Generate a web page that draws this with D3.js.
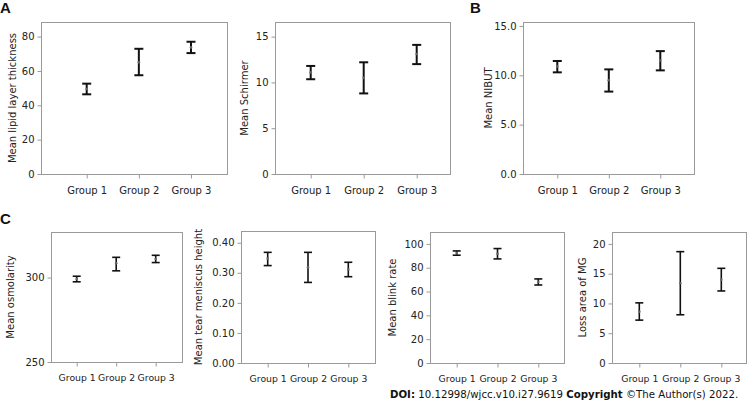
<!DOCTYPE html>
<html>
<head>
<meta charset="utf-8">
<script src="https://cdnjs.cloudflare.com/ajax/libs/d3/7.8.5/d3.min.js"></script>
<style>
  body { margin: 0; background: #fff; }
  svg { display: block; font-family: "DejaVu Sans", Verdana, sans-serif; }
</style>
</head>
<body>
<div id="chart"></div>
<script>
// group names on every x axis
var groups = ["Group 1", "Group 2", "Group 3"];

// values: mean, lower and upper end of each error bar
var lipidMean = [49.5, 65.0, 73.7];
var lipidLow = [46.4, 57.5, 70.4];
var lipidHigh = [52.6, 72.9, 77.0];

var schirmerMean = [11.1, 10.5, 13.1];
var schirmerLow = [10.35, 8.8, 12.0];
var schirmerHigh = [11.8, 12.2, 14.1];

var nibutMean = [10.9, 9.5, 11.5];
var nibutLow = [10.3, 8.35, 10.5];
var nibutHigh = [11.45, 10.6, 12.45];

var osmoMean = [299.2, 308.5, 311.0];
var osmoLow = [297.5, 304.0, 308.9];
var osmoHigh = [300.8, 312.0, 313.2];

var meniscusMean = [0.347, 0.318, 0.311];
var meniscusLow = [0.324, 0.268, 0.287];
var meniscusHigh = [0.368, 0.368, 0.335];

var blinkMean = [92.3, 91.7, 68.0];
var blinkLow = [90.5, 87.4, 65.5];
var blinkHigh = [94.1, 96.1, 70.6];

var mgMean = [8.6, 13.4, 14.0];
var mgLow = [7.2, 8.1, 12.1];
var mgHigh = [10.1, 18.7, 15.9];

// tick values for each y axis
var lipidTicks = [0, 20, 40, 60, 80];
var schirmerTicks = [0, 5, 10, 15];
var nibutTicks = [0, 5, 10, 15];
var osmoTicks = [250, 300];
var meniscusTicks = [0, 0.1, 0.2, 0.3, 0.4];
var blinkTicks = [0, 20, 40, 60, 80, 100];
var mgTicks = [0, 5, 10, 15, 20];

var width = 752;
var height = 404;

var svg = d3.select("#chart")
    .append("svg")
    .attr("width", width)
    .attr("height", height);

// panel layout: frame box, x range of group centres, y domain
var panels = [
    { label: "Mean lipid layer thickness", mean: lipidMean, low: lipidLow, high: lipidHigh, ticks: lipidTicks, fmt: "d",
      box: [41, 22, 227, 174], xr: [86.7, 191], yd: [0, 88.5], lx: 12, sw: 2, cap: 9, fs: 10 },
    { label: "Mean Schirmer", mean: schirmerMean, low: schirmerLow, high: schirmerHigh, ticks: schirmerTicks, fmt: "d",
      box: [275, 22, 450, 174], xr: [310.7, 416.7], yd: [0, 16.6], lx: 244, sw: 2, cap: 9, fs: 10 },
    { label: "Mean NIBUT", mean: nibutMean, low: nibutLow, high: nibutHigh, ticks: nibutTicks, fmt: ".1f",
      box: [523, 22, 694, 174], xr: [557.3, 660.3], yd: [0, 15.4], lx: 488, sw: 2, cap: 9, fs: 10 },
    { label: "Mean osmolarity", mean: osmoMean, low: osmoLow, high: osmoHigh, ticks: osmoTicks, fmt: "d",
      box: [51, 232, 182, 362], xr: [76.7, 155.7], yd: [250, 327], lx: 10, sw: 1.6, cap: 8, fs: 9.3 },
    { label: "Mean tear meniscus height", mean: meniscusMean, low: meniscusLow, high: meniscusHigh, ticks: meniscusTicks, fmt: ".2f",
      box: [241, 231, 375, 363], xr: [267.7, 348.3], yd: [0, 0.439], lx: 198, sw: 1.6, cap: 8, fs: 9.3 },
    { label: "Mean blink rate", mean: blinkMean, low: blinkLow, high: blinkHigh, ticks: blinkTicks, fmt: "d",
      box: [430, 232, 564, 363], xr: [456.7, 538.3], yd: [0, 110], lx: 392, sw: 1.6, cap: 8, fs: 9.3 },
    { label: "Loss area of MG", mean: mgMean, low: mgLow, high: mgHigh, ticks: mgTicks, fmt: "d",
      box: [612, 232, 746, 363], xr: [639.3, 721.3], yd: [0, 22], lx: 582, sw: 1.6, cap: 8, fs: 9.3 }
];

var gray = "#9a9a9a";

panels.forEach(function (p) {
    var x0 = p.box[0], y0 = p.box[1], x1 = p.box[2], y1 = p.box[3];
    var x = d3.scalePoint().domain(groups).range(p.xr);
    var y = d3.scaleLinear().domain(p.yd).range([y1, y0]);

    var g = svg.append("g");

    g.append("rect")
        .attr("x", x0 + 0.5).attr("y", y0 + 0.5)
        .attr("width", x1 - x0).attr("height", y1 - y0)
        .attr("fill", "none").attr("stroke", gray);

    var yAxis = g.append("g")
        .attr("transform", "translate(" + (x0 + 0.5) + ",0)")
        .call(d3.axisLeft(y).tickValues(p.ticks).tickSize(4).tickFormat(d3.format(p.fmt)));
    var xAxis = g.append("g")
        .attr("transform", "translate(0," + (y1 + 0.5) + ")")
        .call(d3.axisBottom(x).tickSize(4).tickPadding(8));

    [yAxis, xAxis].forEach(function (a) {
        a.select(".domain").remove();
        a.selectAll(".tick line").attr("stroke", gray);
        a.selectAll(".tick text").attr("fill", "#222").style("font-size", "10px")
            .style("font-family", "DejaVu Sans, Verdana, sans-serif");
    });
    xAxis.selectAll(".tick text").style("font-size", p.fs + "px");

    g.append("text")
        .attr("transform", "translate(" + p.lx + "," + ((y0 + y1) / 2) + ") rotate(-90)")
        .attr("text-anchor", "middle")
        .attr("dominant-baseline", "central")
        .attr("fill", "#222")
        .style("font-size", "10px")
        .text(p.label);

    var bars = g.selectAll(".bar")
        .data(groups)
        .enter()
        .append("g")
        .attr("class", "bar");

    bars.append("line")
        .attr("x1", function (d) { return x(d); })
        .attr("x2", function (d) { return x(d); })
        .attr("y1", function (d, i) { return y(p.low[i]); })
        .attr("y2", function (d, i) { return y(p.high[i]); })
        .attr("stroke", "#111").attr("stroke-width", p.sw);
    ["low", "high"].forEach(function (k) {
        bars.append("line")
            .attr("x1", function (d) { return x(d) - p.cap / 2; })
            .attr("x2", function (d) { return x(d) + p.cap / 2; })
            .attr("y1", function (d, i) { return y(p[k][i]); })
            .attr("y2", function (d, i) { return y(p[k][i]); })
            .attr("stroke", "#111").attr("stroke-width", p.sw);
    });
    bars.append("circle")
        .attr("cx", function (d) { return x(d); })
        .attr("cy", function (d, i) { return y(p.mean[i]); })
        .attr("r", 1.3)
        .attr("fill", "#666");
});

// panel letters
[["A", 0, 13], ["B", 470, 13], ["C", 0, 224]].forEach(function (l) {
    svg.append("text")
        .attr("x", l[1]).attr("y", l[2])
        .attr("font-weight", "bold")
        .style("font-family", "Liberation Sans, Arial, sans-serif")
        .style("font-size", "15px")
        .attr("fill", "#111")
        .text(l[0]);
});

// citation line
var cite = svg.append("text")
    .attr("x", 390).attr("y", 398)
    .style("font-size", "10.2px")
    .attr("fill", "#111");
cite.append("tspan").attr("font-weight", "bold").text("DOI:");
cite.append("tspan").text(" 10.12998/wjcc.v10.i27.9619  ");
cite.append("tspan").attr("font-weight", "bold").text("Copyright");
cite.append("tspan").text(" \u00A9The Author(s) 2022.");
</script>
</body>
</html>
